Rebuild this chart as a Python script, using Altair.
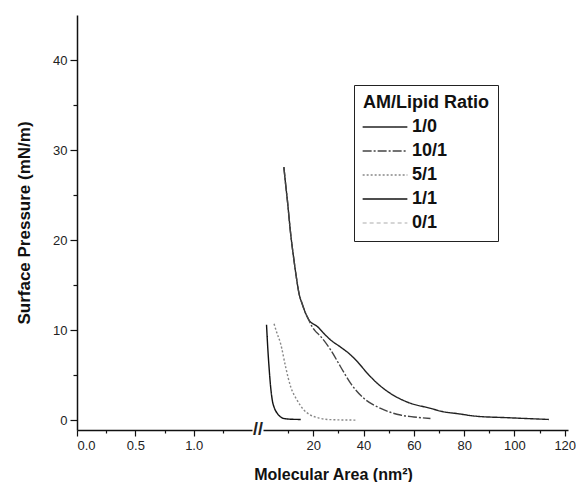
import altair as alt
import pandas as pd

# ---- data ----
ratios = ["1/0", "10/1", "5/1", "1/1", "0/1"]

area_1_0 = [8.3, 9.0, 9.7, 11.0, 12.3, 13.3, 14.3, 15.6, 16.9, 18.3, 21.6, 24.3, 26.9,
            30.9, 34.2, 37.5, 41.5, 45.4, 50.7, 57.4, 66.7, 71.3, 77.3, 84.5, 97.8, 113.7]
pres_1_0 = [28.1, 26.2, 24.4, 20.7, 17.8, 15.8, 14.1, 12.9, 11.9, 11.1, 10.4, 9.6, 8.9,
            8.1, 7.4, 6.5, 5.2, 4.1, 2.96, 2.0, 1.3, 0.95, 0.72, 0.44, 0.26, 0.07]

area_10_1 = [8.3, 9.0, 9.7, 11.0, 12.3, 13.3, 14.3, 15.6, 16.9, 18.3, 18.9, 20.5, 22.9,
             26.9, 30.9, 34.8, 40.2, 46.8, 54.7, 60.0, 66.6]
pres_10_1 = [28.1, 26.2, 24.4, 20.7, 17.8, 15.8, 14.1, 12.9, 11.9, 11.1, 10.7, 10.0, 9.3,
             7.8, 5.9, 4.1, 2.4, 1.3, 0.56, 0.35, 0.18]

area_5_1 = [4.4, 5.5, 7.0, 9.0, 11.0, 13.6, 16.0, 18.9, 22.0, 26.9, 36.8]
pres_5_1 = [10.7, 9.7, 8.5, 5.9, 3.7, 2.2, 1.2, 0.56, 0.25, 0.05, 0.0]

area_1_1 = [1.4, 1.9, 2.4, 3.0, 3.7, 4.6, 5.7, 7.0, 8.3, 11.0, 15.0]
pres_1_1 = [10.6, 8.0, 5.9, 3.8, 2.2, 1.3, 0.74, 0.35, 0.18, 0.1, 0.07]

left_ticks = [0.0, 0.25, 0.5, 0.75, 1.0, 1.25]
right_ticks = [10, 20, 30, 40, 50, 60, 70, 80, 90, 100, 110, 120]
y_ticks = [0, 5, 10, 15, 20, 25, 30, 35, 40]

colors = ["#222222", "#444444", "#888888", "#111111", "#c8c8c8"]
dashes = [[1, 0], [9, 2, 2, 2], [2, 2], [1, 0], [4, 3]]

rows = []
for name, xs, ys in [("1/0", area_1_0, pres_1_0), ("10/1", area_10_1, pres_10_1),
                     ("5/1", area_5_1, pres_5_1), ("1/1", area_1_1, pres_1_1)]:
    for a, p in zip(xs, ys):
        rows.append({"ratio": name, "area": a, "pressure": p})
df = pd.DataFrame(rows)

FONT = "Liberation Sans"
H = 415
y_scale = alt.Scale(domain=[-1.1, 45], nice=False, zero=False)

y_axis = alt.Axis(
    values=y_ticks,
    labelExpr="datum.value % 10 === 0 ? datum.label : ''",
    tickSize={"condition": {"test": "datum.value % 10 === 0", "value": 7}, "value": 4},
    title="Surface Pressure (mN/m)",
    titleFontSize=17, titleFontWeight="bold", titlePadding=19,
    labelFontSize=13, grid=False,
)

left = alt.Chart(df).mark_line(clip=True, strokeOpacity=0).encode(
    x=alt.X("area:Q",
            scale=alt.Scale(domain=[0, 1.5], nice=False, zero=False),
            axis=alt.Axis(values=left_ticks,
                          labelExpr="datum.value % 0.5 === 0 ? format(datum.value, '.1f') : ''",
                          tickSize={"condition": {"test": "datum.value % 0.5 === 0", "value": 6}, "value": 3},
                          title=None, labelFontSize=13, grid=False)),
    y=alt.Y("pressure:Q", scale=y_scale, axis=y_axis),
    detail="ratio:N",
).properties(width=175, height=H)

lines = alt.Chart(df).mark_line(strokeWidth=1.4, interpolate="monotone").encode(
    x=alt.X("area:Q",
            scale=alt.Scale(domain=[0, 121.3], nice=False, zero=False),
            axis=alt.Axis(values=right_ticks,
                          labelExpr="datum.value % 20 === 0 ? datum.label : ''",
                          tickSize={"condition": {"test": "datum.value % 20 === 0", "value": 6}, "value": 3},
                          title="Molecular Area (nm²)", titleFontSize=16, titleFontWeight="bold",
                          titleX=70, titlePadding=14, labelFontSize=13, grid=False)),
    y=alt.Y("pressure:Q", scale=y_scale, axis=None),
    color=alt.Color("ratio:N", scale=alt.Scale(domain=ratios, range=colors),
                    title="AM/Lipid Ratio"),
    strokeDash=alt.StrokeDash("ratio:N", scale=alt.Scale(domain=ratios, range=dashes),
                              title="AM/Lipid Ratio"),
    order=alt.Order("area:Q"),
)

brk = alt.Chart(pd.DataFrame({"t": ["//"]})).mark_text(
    fontSize=18, fontWeight="bold", font=FONT, color="#222", align="center", baseline="middle"
).encode(text="t:N", x=alt.value(-5), y=alt.value(H))

right = alt.layer(lines, brk).properties(width=305, height=H)

chart = alt.hconcat(left, right, spacing=0).properties(
    padding={"top": 7, "left": 7, "right": 0, "bottom": 0}
).configure(font=FONT).configure_view(stroke=None).configure_axis(
    domainColor="#111", domainWidth=1.5, tickColor="#111", tickWidth=1.2,
    labelColor="#222", titleColor="#111", labelFont=FONT, titleFont=FONT, labelPadding=3,
).configure_legend(
    orient="none", legendX=277, legendY=70,
    strokeColor="#222", padding=9, cornerRadius=0,
    titleFontSize=18, titleFontWeight="bold", titleColor="#111", titleFont=FONT,
    labelFontSize=18, labelFontWeight="bold", labelColor="#111", labelFont=FONT,
    symbolType="M-2,0L2,0", symbolSize=500, symbolStrokeWidth=1.5, rowPadding=3,
    symbolOffset=10, titlePadding=3, labelOffset=15,
)

chart.save("out.html", embed_options={"renderer": "svg", "actions": False})
